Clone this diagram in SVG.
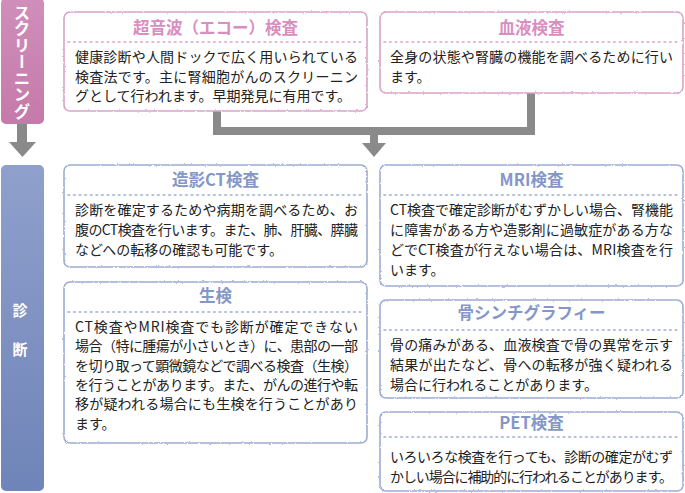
<svg xmlns="http://www.w3.org/2000/svg" width="685" height="493" viewBox="0 0 685 493">
<defs>
<linearGradient id="gPink" x1="0" y1="0" x2="0" y2="1">
<stop offset="0" stop-color="#d08ebb"/>
<stop offset="1" stop-color="#c57aa9"/>
</linearGradient>
<linearGradient id="gBlue" x1="0" y1="0" x2="0" y2="1">
<stop offset="0" stop-color="#8fa0cc"/>
<stop offset="1" stop-color="#6f84b8"/>
</linearGradient>
<filter id="rough" x="-2%" y="-5%" width="104%" height="110%">
<feTurbulence type="fractalNoise" baseFrequency="0.45" numOctaves="2" seed="3" result="n"/>
<feDisplacementMap in="SourceGraphic" in2="n" scale="2.2" xChannelSelector="R" yChannelSelector="G"/>
</filter>
</defs>
<style>
.fill{fill:#fff;stroke:none}
.bp{fill:none;stroke:#d9a2c9;stroke-width:1.6}
.bb{fill:none;stroke:#9dacd4;stroke-width:1.6}
.dp{stroke:#d9a2c9;stroke-width:1.6;stroke-dasharray:1.6 4;stroke-linecap:round}
.db{stroke:#9dacd4;stroke-width:1.6;stroke-dasharray:1.6 4;stroke-linecap:round}
.tp{font-family:"Noto Sans CJK JP","Noto Sans",sans-serif;font-size:16.5px;font-weight:bold;fill:#d98ec0;text-anchor:middle}
.tb{font-family:"Noto Sans CJK JP","Noto Sans",sans-serif;font-size:16.5px;font-weight:bold;fill:#8497c8;text-anchor:middle}
.body{font-family:"Noto Sans CJK JP","Noto Sans",sans-serif;font-size:14px;fill:#222}
.side{font-family:"Noto Sans CJK JP",sans-serif;font-weight:bold;fill:#fff}
.conn{fill:none;stroke:#8a8a8a;stroke-width:8}
.ah{fill:#8a8a8a}
</style>

<g id="screening-bar">
<rect x="1" y="-2" width="43" height="126" rx="5" fill="url(#gPink)"/>
<text class="side" x="22" y="4" font-size="16.5" style="writing-mode:vertical-rl;text-anchor:start">スクリーニング</text>
</g>

<g id="diagnosis-bar">
<rect x="1" y="165" width="43" height="326" rx="5" fill="url(#gBlue)"/>
<text class="side" x="20" y="316" font-size="15" text-anchor="middle">診</text>
<text class="side" x="20" y="355" font-size="15" text-anchor="middle">断</text>
</g>

<g id="connectors">
<rect x="17" y="124" width="10" height="19" class="ah"/>
<polygon points="9,142 36,142 22.5,157" class="ah"/>
<polyline class="conn" points="217,111 217,131 531,131 531,93"/>
<rect x="370" y="131" width="8" height="13" class="ah"/>
<polygon points="362,143 386,143 374,157" class="ah"/>
</g>

<g id="ultrasound">
<rect class="fill" x="64" y="12" width="303" height="99" rx="6"/>
<rect class="bp" x="64" y="12" width="303" height="99" rx="6" filter="url(#rough)"/>
<text class="tp" x="215.5" y="34">超音波（エコー）検査</text>
<line class="dp" x1="68" y1="42" x2="364" y2="42"/>
<text class="body"><tspan x="75" y="62" textLength="283">健康診断や人間ドックで広く用いられている</tspan><tspan x="75" y="81.5" textLength="283">検査法です。主に腎細胞がんのスクリーニン</tspan><tspan x="75" y="101">グとして行われます。早期発見に有用です。</tspan></text>
</g>

<g id="blood">
<rect class="fill" x="380" y="12" width="303" height="81" rx="6"/>
<rect class="bp" x="380" y="12" width="303" height="81" rx="6" filter="url(#rough)"/>
<text class="tp" x="531.5" y="34">血液検査</text>
<line class="dp" x1="384" y1="42" x2="680" y2="42"/>
<text class="body"><tspan x="390" y="62" textLength="283">全身の状態や腎臓の機能を調べるために行い</tspan><tspan x="390" y="81.5">ます。</tspan></text>
</g>

<g id="ct">
<rect class="fill" x="64" y="165" width="303" height="102" rx="6"/>
<rect class="bb" x="64" y="165" width="303" height="102" rx="6" filter="url(#rough)"/>
<text class="tb" x="215.5" y="186">造影CT検査</text>
<line class="db" x1="68" y1="195" x2="364" y2="195"/>
<text class="body"><tspan x="75" y="215" textLength="283">診断を確定するためや病期を調べるため、お</tspan><tspan x="75" y="235" textLength="283">腹のCT検査を行います。また、肺、肝臓、膵臓</tspan><tspan x="75" y="255">などへの転移の確認も可能です。</tspan></text>
</g>

<g id="biopsy">
<rect class="fill" x="64" y="282" width="303" height="161" rx="6"/>
<rect class="bb" x="64" y="282" width="303" height="161" rx="6" filter="url(#rough)"/>
<text class="tb" x="215.5" y="302">生検</text>
<line class="db" x1="68" y1="312" x2="364" y2="312"/>
<text class="body"><tspan x="75" y="332" textLength="283">CT検査やMRI検査でも診断が確定できない</tspan><tspan x="75" y="351.3" textLength="283">場合（特に腫瘍が小さいとき）に、患部の一部</tspan><tspan x="75" y="370.6" textLength="283">を切り取って顕微鏡などで調べる検査（生検）</tspan><tspan x="75" y="389.9" textLength="283">を行うことがあります。また、がんの進行や転</tspan><tspan x="75" y="409.2" textLength="283">移が疑われる場合にも生検を行うことがあり</tspan><tspan x="75" y="428.5">ます。</tspan></text>
</g>

<g id="mri">
<rect class="fill" x="380" y="165" width="303" height="121" rx="6"/>
<rect class="bb" x="380" y="165" width="303" height="121" rx="6" filter="url(#rough)"/>
<text class="tb" x="531.5" y="186">MRI検査</text>
<line class="db" x1="384" y1="195" x2="680" y2="195"/>
<text class="body"><tspan x="390" y="215" textLength="283">CT検査で確定診断がむずかしい場合、腎機能</tspan><tspan x="390" y="235" textLength="283">に障害がある方や造影剤に過敏症がある方な</tspan><tspan x="390" y="255" textLength="283">どでCT検査が行えない場合は、MRI検査を行</tspan><tspan x="390" y="275">います。</tspan></text>
</g>

<g id="bone">
<rect class="fill" x="380" y="300" width="303" height="98" rx="6"/>
<rect class="bb" x="380" y="300" width="303" height="98" rx="6" filter="url(#rough)"/>
<text class="tb" x="531.5" y="319">骨シンチグラフィー</text>
<line class="db" x1="384" y1="330" x2="680" y2="330"/>
<text class="body"><tspan x="390" y="350" textLength="283">骨の痛みがある、血液検査で骨の異常を示す</tspan><tspan x="390" y="370" textLength="283">結果が出たなど、骨への転移が強く疑われる</tspan><tspan x="390" y="390">場合に行われることがあります。</tspan></text>
</g>

<g id="pet">
<rect class="fill" x="380" y="412" width="303" height="79" rx="6"/>
<rect class="bb" x="380" y="412" width="303" height="79" rx="6" filter="url(#rough)"/>
<text class="tb" x="531.5" y="429">PET検査</text>
<line class="db" x1="384" y1="437" x2="680" y2="437"/>
<text class="body"><tspan x="390" y="462" textLength="283">いろいろな検査を行っても、診断の確定がむず</tspan><tspan x="390" y="482" textLength="283">かしい場合に補助的に行われることがあります。</tspan></text>
</g>
</svg>
